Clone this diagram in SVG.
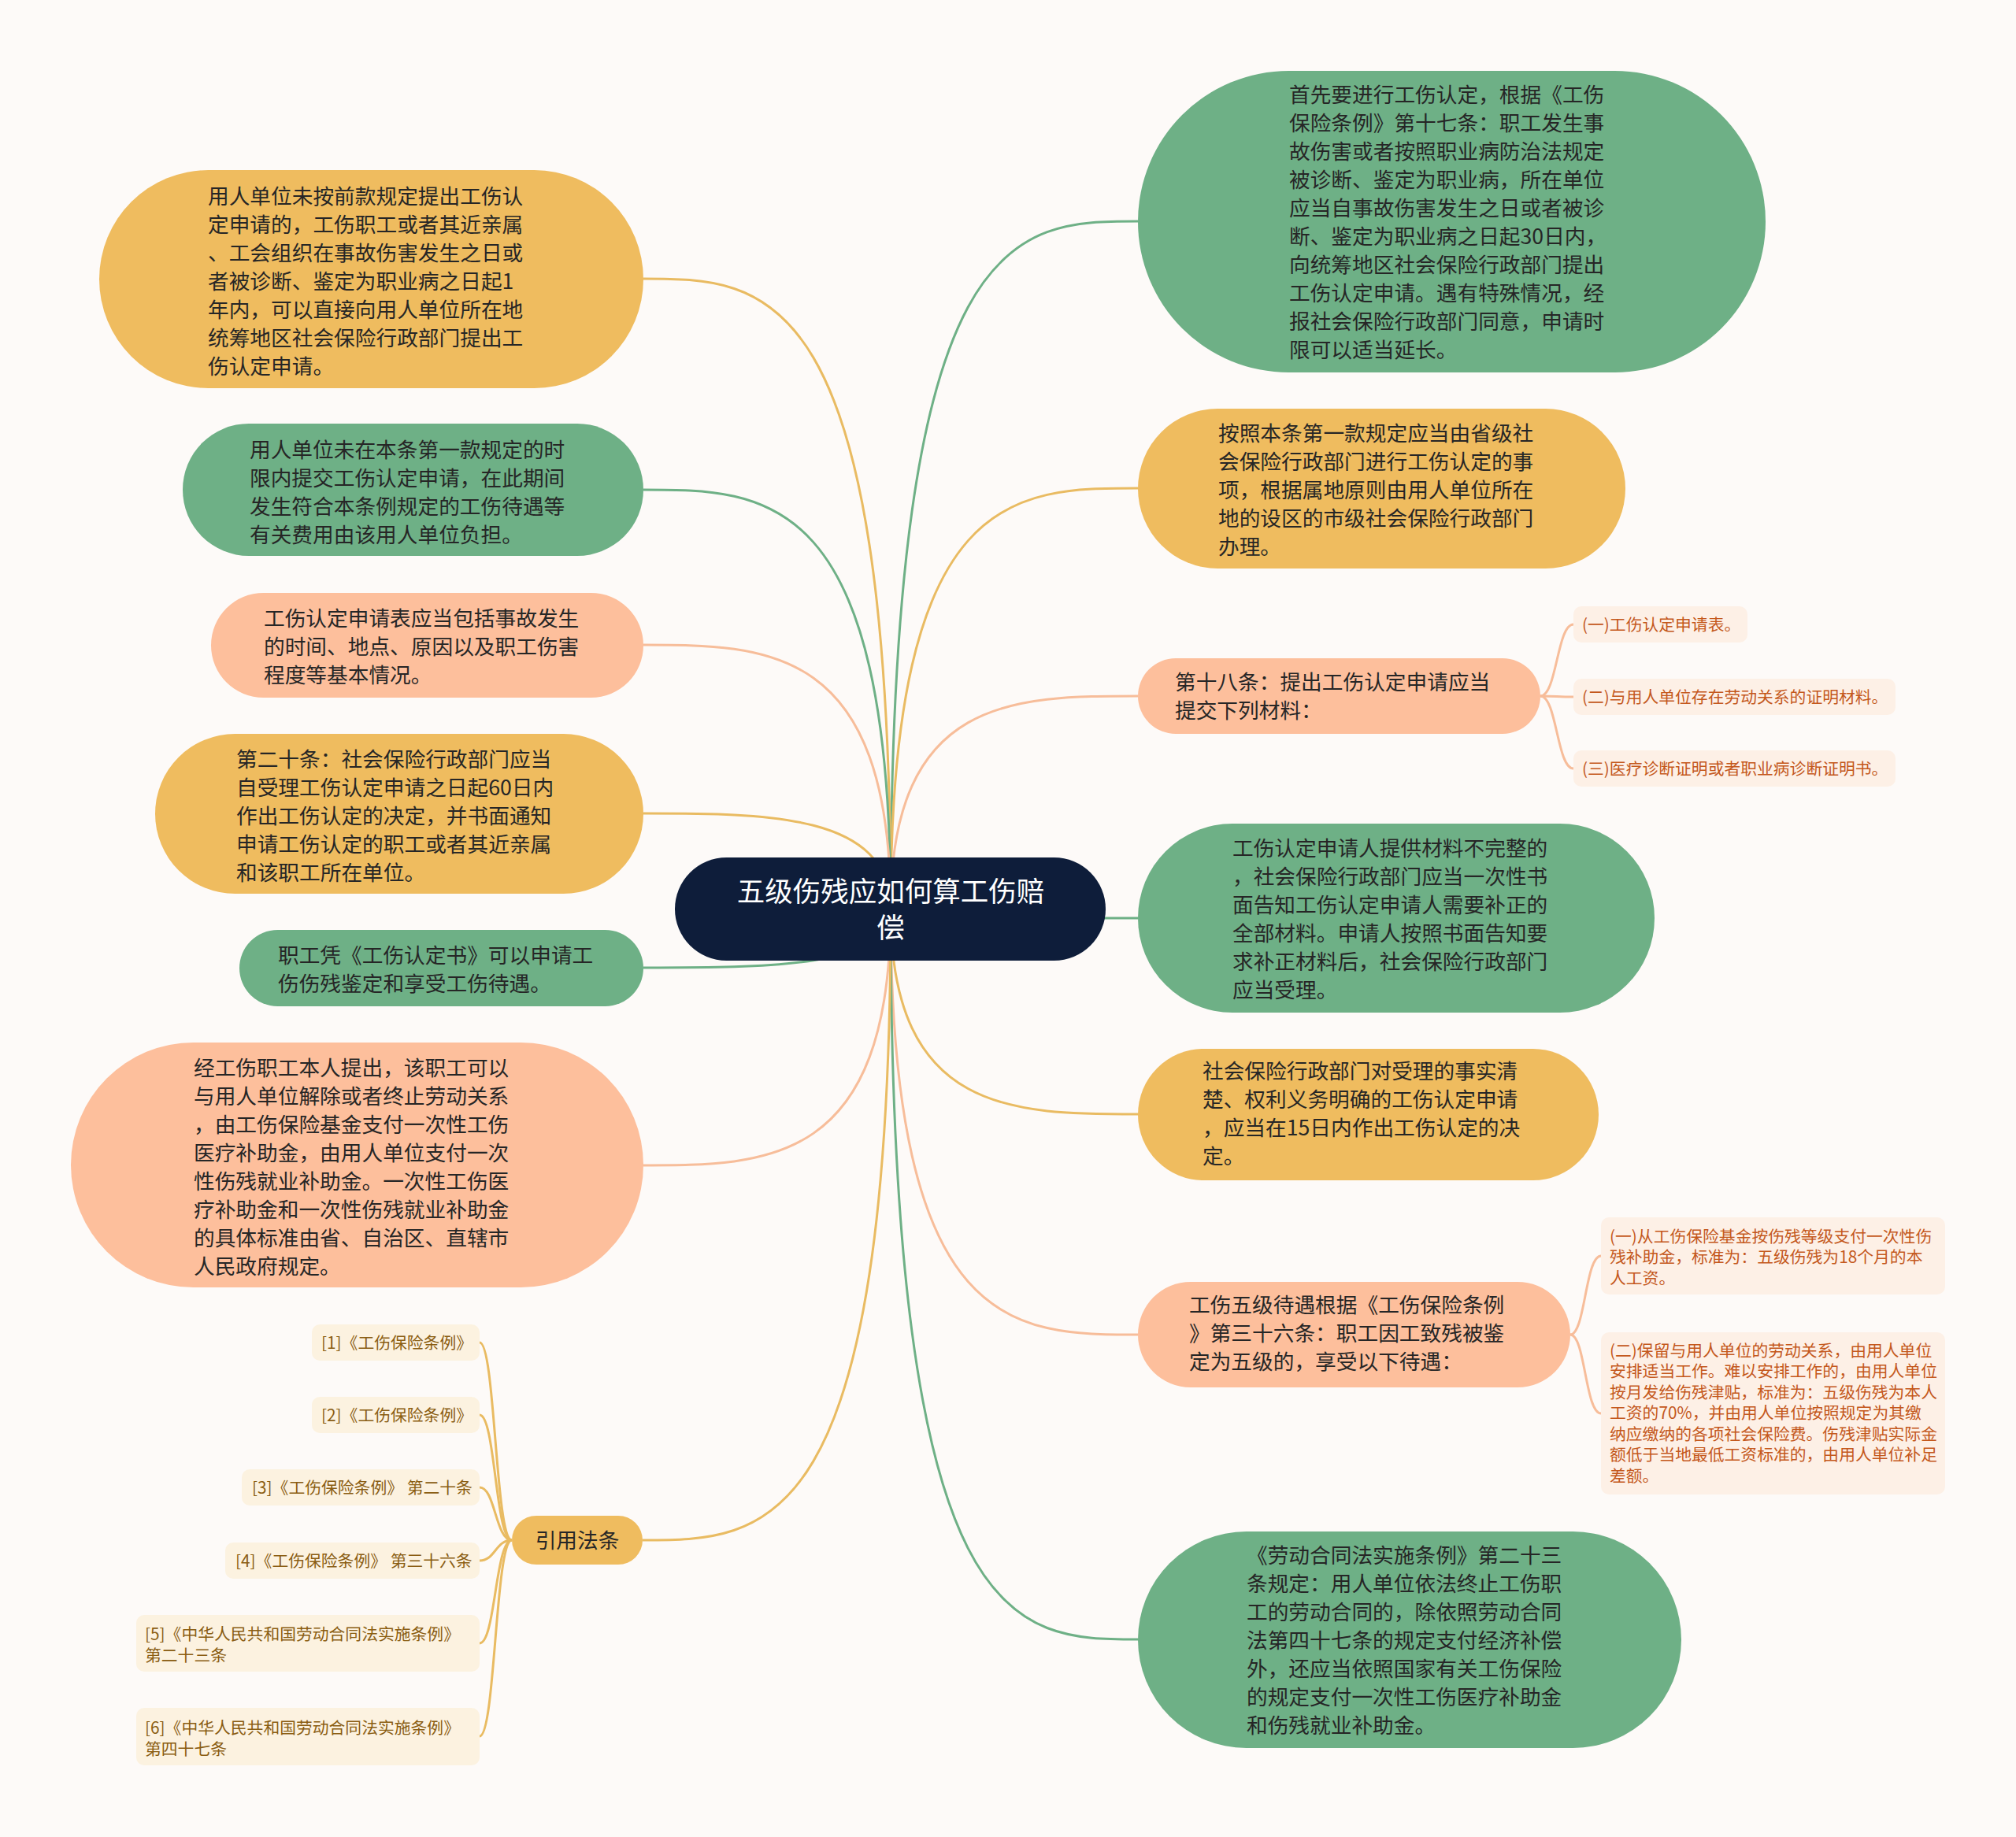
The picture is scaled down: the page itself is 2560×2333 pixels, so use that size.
<svg xmlns="http://www.w3.org/2000/svg" width="2560" height="2333" viewBox="0 0 2560 2333">
<style>
.t{font-family:"Noto Sans CJK SC","Noto Sans",sans-serif;font-size:26.7px;fill:#262626}
.s{font-family:"Noto Sans CJK SC","Noto Sans",sans-serif;font-size:20.8px}
.so{fill:#c4581c}
.sc{fill:#8a5d12}
.rt{font-family:"Noto Sans CJK SC","Noto Sans",sans-serif;font-size:35.5px;fill:#ffffff;text-anchor:middle}
.g{fill:#6eb086}
.y{fill:#efbc5f}
.p{fill:#fdbf9c}
.lf{fill:#fdf0e6}
.lc{fill:#fcf2e0}
.c{fill:none;stroke-width:3}
.cg{stroke:#6eb086}
.cy{stroke:#e9bb62}
.cp{stroke:#f7bd9a}
</style>
<rect x="0" y="0" width="2560" height="2333" fill="#fdfaf8"/>
<g id="connectors">
<path class="c cg" d="M1131,1155 C1131,281 1288,281 1445,281"/>
<path class="c cy" d="M1131,1155 C1131,620 1288,620 1445,620"/>
<path class="c cp" d="M1131,1155 C1131,884 1288,884 1445,884"/>
<path class="c cg" d="M1131,1155 C1131,1166 1288,1166 1445,1166"/>
<path class="c cy" d="M1131,1155 C1131,1415 1288,1415 1445,1415"/>
<path class="c cp" d="M1131,1155 C1131,1695 1288,1695 1445,1695"/>
<path class="c cg" d="M1131,1155 C1131,2082 1288,2082 1445,2082"/>
<path class="c cy" d="M1131,1155 C1131,354 974,354 817,354"/>
<path class="c cg" d="M1131,1155 C1131,622 974,622 817,622"/>
<path class="c cp" d="M1131,1155 C1131,819 974,819 817,819"/>
<path class="c cy" d="M1131,1155 C1131,1033 974,1033 817,1033"/>
<path class="c cg" d="M1131,1155 C1131,1229 974,1229 817,1229"/>
<path class="c cp" d="M1131,1155 C1131,1480 974,1480 817,1480"/>
<path class="c cy" d="M1131,1155 C1131,1956 974,1956 816,1956"/>
<path class="c cp" d="M1956,884 C1977,884 1977,793 1998,793"/>
<path class="c cp" d="M1956,884 C1977,884 1977,885 1998,885"/>
<path class="c cp" d="M1956,884 C1977,884 1977,976 1998,976"/>
<path class="c cp" d="M1994,1695 C2013,1695 2013,1595 2033,1595"/>
<path class="c cp" d="M1994,1695 C2013,1695 2013,1795 2033,1795"/>
<path class="c cy" d="M650,1956 C629,1956 629,1705 609,1705"/>
<path class="c cy" d="M650,1956 C629,1956 629,1797 609,1797"/>
<path class="c cy" d="M650,1956 C629,1956 629,1889 609,1889"/>
<path class="c cy" d="M650,1956 C629,1956 629,1982 609,1982"/>
<path class="c cy" d="M650,1956 C629,1956 629,2087 609,2087"/>
<path class="c cy" d="M650,1956 C629,1956 629,2205 609,2205"/>
</g>
<g id="root">
<rect x="857" y="1089" width="547" height="131" rx="65.5" fill="#0e1d3a"/>
<text class="rt"><tspan x="1131" y="1145">五级伤残应如何算工伤赔</tspan><tspan x="1131" y="1191">偿</tspan></text>
</g>
<g id="r1">
<rect class="g" x="1445" y="90" width="797" height="383" rx="191.5"/>
<text class="t"><tspan x="1637" y="130">首先要进行工伤认定，根据《工伤</tspan><tspan x="1637" y="166">保险条例》第十七条：职工发生事</tspan><tspan x="1637" y="202">故伤害或者按照职业病防治法规定</tspan><tspan x="1637" y="238">被诊断、鉴定为职业病，所在单位</tspan><tspan x="1637" y="274">应当自事故伤害发生之日或者被诊</tspan><tspan x="1637" y="310">断、鉴定为职业病之日起30日内，</tspan><tspan x="1637" y="346">向统筹地区社会保险行政部门提出</tspan><tspan x="1637" y="382">工伤认定申请。遇有特殊情况，经</tspan><tspan x="1637" y="418">报社会保险行政部门同意，申请时</tspan><tspan x="1637" y="454">限可以适当延长。</tspan></text>
</g>
<g id="r2">
<rect class="y" x="1445" y="519" width="619" height="203" rx="101.5"/>
<text class="t"><tspan x="1547" y="560">按照本条第一款规定应当由省级社</tspan><tspan x="1547" y="596">会保险行政部门进行工伤认定的事</tspan><tspan x="1547" y="632">项，根据属地原则由用人单位所在</tspan><tspan x="1547" y="668">地的设区的市级社会保险行政部门</tspan><tspan x="1547" y="704">办理。</tspan></text>
</g>
<g id="r3">
<rect class="p" x="1445" y="836" width="511" height="96" rx="48"/>
<text class="t"><tspan x="1492" y="876">第十八条：提出工伤认定申请应当</tspan><tspan x="1492" y="912">提交下列材料：</tspan></text>
</g>
<g id="r3a">
<rect class="lf" x="1998" y="770" width="221" height="46" rx="10"/>
<text class="s so" x="2009" y="800.5">(一)工伤认定申请表。</text>
</g>
<g id="r3b">
<rect class="lf" x="1998" y="862" width="409" height="46" rx="10"/>
<text class="s so" x="2009" y="892.5">(二)与用人单位存在劳动关系的证明材料。</text>
</g>
<g id="r3c">
<rect class="lf" x="1998" y="953" width="409" height="46" rx="10"/>
<text class="s so" x="2009" y="983.5">(三)医疗诊断证明或者职业病诊断证明书。</text>
</g>
<g id="r4">
<rect class="g" x="1445" y="1046" width="656" height="240" rx="120"/>
<text class="t"><tspan x="1565" y="1087">工伤认定申请人提供材料不完整的</tspan><tspan x="1565" y="1123">，社会保险行政部门应当一次性书</tspan><tspan x="1565" y="1159">面告知工伤认定申请人需要补正的</tspan><tspan x="1565" y="1195">全部材料。申请人按照书面告知要</tspan><tspan x="1565" y="1231">求补正材料后，社会保险行政部门</tspan><tspan x="1565" y="1267">应当受理。</tspan></text>
</g>
<g id="r5">
<rect class="y" x="1445" y="1332" width="585" height="167" rx="83.5"/>
<text class="t"><tspan x="1527" y="1370">社会保险行政部门对受理的事实清</tspan><tspan x="1527" y="1406">楚、权利义务明确的工伤认定申请</tspan><tspan x="1527" y="1442">，应当在15日内作出工伤认定的决</tspan><tspan x="1527" y="1478">定。</tspan></text>
</g>
<g id="r6">
<rect class="p" x="1445" y="1628" width="549" height="134" rx="67"/>
<text class="t"><tspan x="1510" y="1667">工伤五级待遇根据《工伤保险条例</tspan><tspan x="1510" y="1703">》第三十六条：职工因工致残被鉴</tspan><tspan x="1510" y="1739">定为五级的，享受以下待遇：</tspan></text>
</g>
<g id="r6a">
<rect class="lf" x="2033" y="1546" width="437" height="98" rx="10"/>
<text class="s so"><tspan x="2044" y="1577.5">(一)从工伤保险基金按伤残等级支付一次性伤</tspan><tspan x="2044" y="1604">残补助金，标准为：五级伤残为18个月的本</tspan><tspan x="2044" y="1630.5">人工资。</tspan></text>
</g>
<g id="r6b">
<rect class="lf" x="2033" y="1692" width="437" height="206" rx="10"/>
<text class="s so"><tspan x="2044" y="1722.5">(二)保留与用人单位的劳动关系，由用人单位</tspan><tspan x="2044" y="1749">安排适当工作。难以安排工作的，由用人单位</tspan><tspan x="2044" y="1775.5">按月发给伤残津贴，标准为：五级伤残为本人</tspan><tspan x="2044" y="1802">工资的70%，并由用人单位按照规定为其缴</tspan><tspan x="2044" y="1828.5">纳应缴纳的各项社会保险费。伤残津贴实际金</tspan><tspan x="2044" y="1855">额低于当地最低工资标准的，由用人单位补足</tspan><tspan x="2044" y="1881.5">差额。</tspan></text>
</g>
<g id="r7">
<rect class="g" x="1445" y="1945" width="690" height="275" rx="137.5"/>
<text class="t"><tspan x="1583" y="1985">《劳动合同法实施条例》第二十三</tspan><tspan x="1583" y="2021">条规定：用人单位依法终止工伤职</tspan><tspan x="1583" y="2057">工的劳动合同的，除依照劳动合同</tspan><tspan x="1583" y="2093">法第四十七条的规定支付经济补偿</tspan><tspan x="1583" y="2129">外，还应当依照国家有关工伤保险</tspan><tspan x="1583" y="2165">的规定支付一次性工伤医疗补助金</tspan><tspan x="1583" y="2201">和伤残就业补助金。</tspan></text>
</g>
<g id="l1">
<rect class="y" x="126" y="216" width="691" height="277" rx="138.5"/>
<text class="t"><tspan x="264" y="259">用人单位未按前款规定提出工伤认</tspan><tspan x="264" y="295">定申请的，工伤职工或者其近亲属</tspan><tspan x="264" y="331">、工会组织在事故伤害发生之日或</tspan><tspan x="264" y="367">者被诊断、鉴定为职业病之日起1</tspan><tspan x="264" y="403">年内，可以直接向用人单位所在地</tspan><tspan x="264" y="439">统筹地区社会保险行政部门提出工</tspan><tspan x="264" y="475">伤认定申请。</tspan></text>
</g>
<g id="l2">
<rect class="g" x="232" y="538" width="585" height="168" rx="84"/>
<text class="t"><tspan x="317" y="581">用人单位未在本条第一款规定的时</tspan><tspan x="317" y="617">限内提交工伤认定申请，在此期间</tspan><tspan x="317" y="653">发生符合本条例规定的工伤待遇等</tspan><tspan x="317" y="689">有关费用由该用人单位负担。</tspan></text>
</g>
<g id="l3">
<rect class="p" x="268" y="753" width="549" height="133" rx="66.5"/>
<text class="t"><tspan x="335" y="795">工伤认定申请表应当包括事故发生</tspan><tspan x="335" y="831">的时间、地点、原因以及职工伤害</tspan><tspan x="335" y="867">程度等基本情况。</tspan></text>
</g>
<g id="l4">
<rect class="y" x="197" y="932" width="620" height="203" rx="101.5"/>
<text class="t"><tspan x="300" y="974">第二十条：社会保险行政部门应当</tspan><tspan x="300" y="1010">自受理工伤认定申请之日起60日内</tspan><tspan x="300" y="1046">作出工伤认定的决定，并书面通知</tspan><tspan x="300" y="1082">申请工伤认定的职工或者其近亲属</tspan><tspan x="300" y="1118">和该职工所在单位。</tspan></text>
</g>
<g id="l5">
<rect class="g" x="304" y="1181" width="513" height="97" rx="48.5"/>
<text class="t"><tspan x="353" y="1223">职工凭《工伤认定书》可以申请工</tspan><tspan x="353" y="1259">伤伤残鉴定和享受工伤待遇。</tspan></text>
</g>
<g id="l6">
<rect class="p" x="90" y="1324" width="727" height="311" rx="155.5"/>
<text class="t"><tspan x="246" y="1366">经工伤职工本人提出，该职工可以</tspan><tspan x="246" y="1402">与用人单位解除或者终止劳动关系</tspan><tspan x="246" y="1438">，由工伤保险基金支付一次性工伤</tspan><tspan x="246" y="1474">医疗补助金，由用人单位支付一次</tspan><tspan x="246" y="1510">性伤残就业补助金。一次性工伤医</tspan><tspan x="246" y="1546">疗补助金和一次性伤残就业补助金</tspan><tspan x="246" y="1582">的具体标准由省、自治区、直辖市</tspan><tspan x="246" y="1618">人民政府规定。</tspan></text>
</g>
<g id="l7">
<rect class="y" x="650" y="1925" width="166" height="62" rx="31"/>
<text class="t" x="733" y="1966" text-anchor="middle">引用法条</text>
</g>
<g id="c1">
<rect class="lc" x="396" y="1682" width="213" height="46" rx="10"/>
<text class="s sc" x="408" y="1712.5">[1]《工伤保险条例》</text>
</g>
<g id="c2">
<rect class="lc" x="396" y="1774" width="213" height="46" rx="10"/>
<text class="s sc" x="408" y="1804.5">[2]《工伤保险条例》</text>
</g>
<g id="c3">
<rect class="lc" x="307" y="1866" width="302" height="46" rx="10"/>
<text class="s sc" x="320" y="1896.5">[3]《工伤保险条例》 第二十条</text>
</g>
<g id="c4">
<rect class="lc" x="286" y="1959" width="323" height="46" rx="10"/>
<text class="s sc" x="299" y="1989.5">[4]《工伤保险条例》 第三十六条</text>
</g>
<g id="c5">
<rect class="lc" x="173" y="2051" width="436" height="72" rx="10"/>
<text class="s sc"><tspan x="184" y="2082.5">[5]《中华人民共和国劳动合同法实施条例》</tspan><tspan x="184" y="2109.5">第二十三条</tspan></text>
</g>
<g id="c6">
<rect class="lc" x="173" y="2169" width="436" height="73" rx="10"/>
<text class="s sc"><tspan x="184" y="2201.5">[6]《中华人民共和国劳动合同法实施条例》</tspan><tspan x="184" y="2228.5">第四十七条</tspan></text>
</g>
</svg>
